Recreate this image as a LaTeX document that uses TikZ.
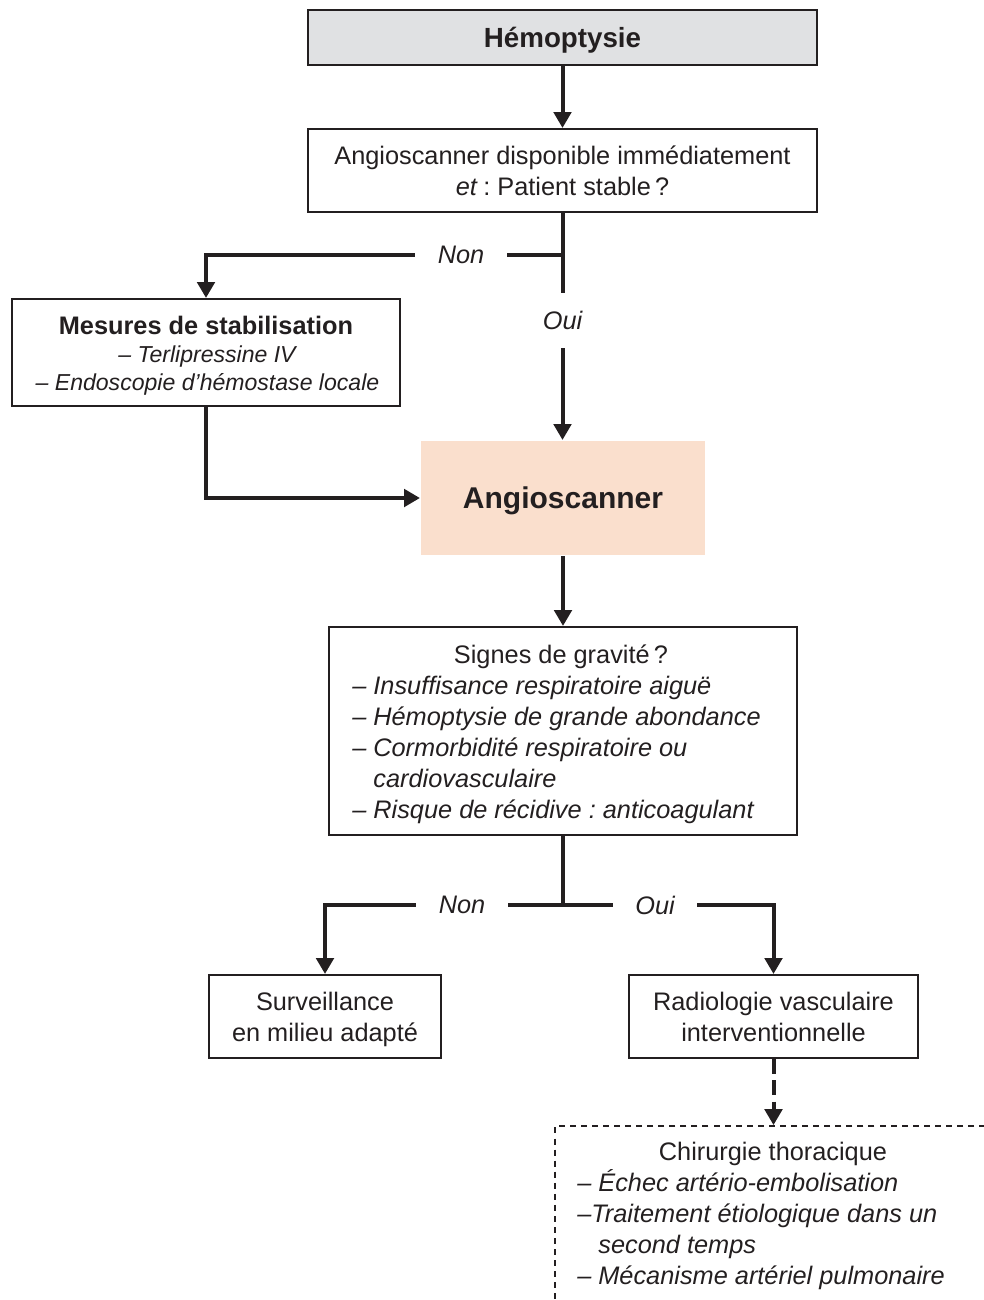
\documentclass[tikz,border=0pt]{standalone}
\usepackage{fontspec}
\setmainfont{Liberation Sans}
\usetikzlibrary{arrows.meta}
\definecolor{hgray}{RGB}{224,225,227}
\definecolor{peach}{RGB}{250,223,205}
\definecolor{ink}{RGB}{35,31,32}
\frenchspacing
\begin{document}
\begin{tikzpicture}[x=0.75pt,y=-0.75pt,
  box/.style={draw=ink,line width=1.5pt,inner sep=0pt,rectangle,text=ink},
  conn/.style={draw=ink,line width=3pt},
  arr/.style={conn,-{Triangle[length=12pt,width=13pt]}},
  darr/.style={conn,dash pattern=on 11pt off 5pt,-{Triangle[length=12pt,width=13pt]}},
  lbl/.style={font=\fontsize{19}{23.25}\selectfont\itshape,inner sep=0pt,text=ink},
  txt/.style={font=\fontsize{19}{23.25}\selectfont,text=ink,inner sep=0pt},
  small/.style={font=\fontsize{17.3}{21.4}\selectfont\itshape,text=ink,inner sep=0pt},
]
\useasboundingbox (0,0) rectangle (984,1300);
\clip (0,0) rectangle (984,1300);

% boxes
\node[box,fill=hgray,minimum width=381.75pt,minimum height=41.25pt,text depth=0pt,font=\fontsize{20.8}{25}\selectfont\bfseries] (hemo) at (562.5,37.5) {Hémoptysie};
\node[box,txt,minimum width=381.75pt,minimum height=62.25pt,align=center] (q1) at (562.5,170.5) {Angioscanner disponible immédiatement\\\textit{et}\hspace{0.22em}: Patient stable\,?};

\node[box,minimum width=291pt,minimum height=80.25pt] (mes) at (206,352.5) {};
\node[txt,anchor=base,font=\fontsize{19}{23.25}\selectfont\bfseries] (mes1) at (206,334) {Mesures de stabilisation};
\node[small,anchor=base] (mes2) at (207,362) {– Terlipressine IV};
\node[small,anchor=base] (mes3) at (207.5,390) {– Endoscopie d’hémostase locale};

\node[box,draw=none,fill=peach,minimum width=213pt,minimum height=85.5pt,text depth=0pt,font=\fontsize{22.5}{27}\selectfont\bfseries] (angio) at (563,498) {Angioscanner};

\node[box,minimum width=351pt,minimum height=156pt] (sig) at (563,731) {};
\node[txt,anchor=base] (sigt) at (561,663) {Signes de gravité\,?};
\node[txt,anchor=base west] (sigl) at (352,694) {\itshape\begin{tabular}[t]{@{}l@{}}
– Insuffisance respiratoire aiguë\\
– Hémoptysie de grande abondance\\
– Cormorbidité respiratoire ou\\
\hphantom{–\ }cardiovasculaire\\
– Risque de récidive : anticoagulant
\end{tabular}};

\node[box,txt,minimum width=174pt,minimum height=62.25pt,align=center,text depth=0pt] (surv) at (325,1016.5) {Surveillance\\en milieu adapté};
\node[box,txt,minimum width=216.75pt,minimum height=62.25pt,align=center] (radio) at (773.5,1016.5) {Radiologie vasculaire\\interventionnelle};

\node[draw=ink,line width=1.3pt,dash pattern=on 4.5pt off 3.8pt,minimum width=327pt,minimum height=150pt,inner sep=0pt] (chir) at (773,1226) {};
\node[txt,anchor=base] (chirt) at (773,1160) {Chirurgie thoracique};
\node[txt,anchor=base west] (chirl) at (577,1191) {\itshape\begin{tabular}[t]{@{}l@{}}
– Échec artério-embolisation\\
–Traitement étiologique dans un\\
\hphantom{–\ }second temps\\
– Mécanisme artériel pulmonaire
\end{tabular}};

% labels
\coordinate (j1) at (562.5,255);
\node[lbl,minimum height=41.25pt] (oui1) at (562.5,320.5) {Oui};
\node[lbl,minimum width=69pt] (non1) at (461,255) {Non};
\coordinate (j2) at (563,905);
\node[lbl,minimum width=69pt] (non2) at (462,905) {Non};
\node[lbl,minimum width=63pt] (oui2) at (655,905) {Oui};

% connectors
\draw[arr] (hemo) -- (hemo.south |- q1.north);
\draw[conn] (q1.south) -- (oui1.north);
\draw[arr] (oui1.south) -- (oui1.south |- angio.north);
\draw[conn] (j1) -- (non1.east);
\draw[arr] (non1.west) -| (mes.north);
\draw[arr] (mes.south) |- (angio.west);
\draw[arr] (angio.south) -- (sig.north);
\draw[conn] (sig.south) -- (j2);
\draw[conn] (j2) -- (non2.east);
\draw[arr] (non2.west) -| (surv.north);
\draw[conn] (j2) -- (oui2.west);
\draw[arr] (oui2.east) -| (radio.north);
\draw[darr] (radio.south) -- (radio.south |- chir.north);
\end{tikzpicture}
\end{document}
